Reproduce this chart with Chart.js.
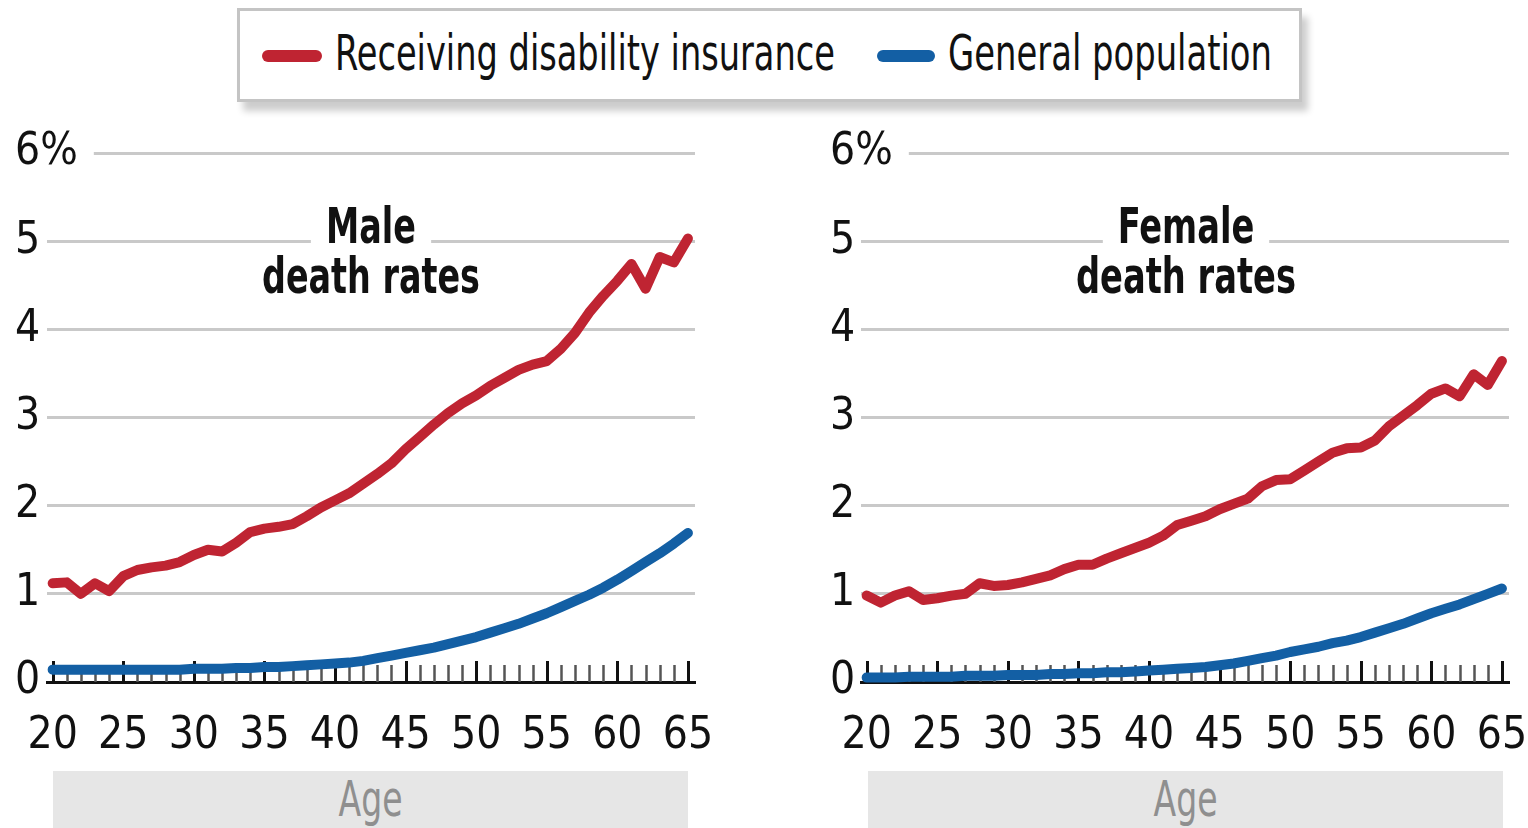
<!DOCTYPE html>
<html><head><meta charset="utf-8">
<script src="https://cdn.jsdelivr.net/npm/chart.js@4.4.1/dist/chart.umd.min.js"></script>
<style>
body{margin:0;width:1528px;height:828px;background:#fff;position:relative;overflow:hidden;font-family:"Liberation Sans Narrow","DejaVu Sans Condensed",sans-serif;color:#111}
#legend{position:absolute;left:237px;top:8px;width:1059px;height:88px;border:3px solid #c4c4c4;background:#fff;box-shadow:6px 9px 7px rgba(0,0,0,0.2)}
.sw{position:absolute;height:12px;border-radius:6px;top:50px}
.lt{position:absolute;top:28px;font-size:50px;line-height:50px;white-space:nowrap;transform-origin:left top}
canvas{position:absolute;top:110px}
.title{position:absolute;top:201px;width:400px;font-weight:bold;font-size:50px;line-height:50px;text-align:center;transform-origin:center top}
.title .w{background:#fff;padding:0 20px}
.agebox{position:absolute;top:771px;height:57px;background:#e6e6e6;color:#8f8f8f;font-size:50px;text-align:center;line-height:57px}
.agebox span{display:inline-block;transform-origin:center}
</style></head>
<body>
<div id="legend"></div>
<div class="sw" style="left:262px;width:60px;background:#bf2432"></div>
<div class="lt" data-w="500" style="left:335px">Receiving disability insurance</div>
<div class="sw" style="left:877px;width:58px;background:#135fa4"></div>
<div class="lt" data-w="324" style="left:948px">General population</div>

<canvas id="male" width="780" height="660" style="left:0"></canvas>
<canvas id="female" width="780" height="660" style="left:800px"></canvas>

<div class="title" data-w="218" style="left:171px"><span class="w">Male</span><br><span class="d">death rates</span></div>
<div class="title" data-w="220" style="left:986px"><span class="w">Female</span><br><span class="d">death rates</span></div>

<div class="agebox" style="left:53px;width:635px"><span data-w="64">Age</span></div>
<div class="agebox" style="left:868px;width:635px"><span data-w="64">Age</span></div>

<script>
const ages = [20,21,22,23,24,25,26,27,28,29,30,31,32,33,34,35,36,37,38,39,40,41,42,43,44,45,46,47,48,49,50,51,52,53,54,55,56,57,58,59,60,61,62,63,64,65];
const xTickLabels = [20,25,30,35,40,45,50,55,60,65];
const yTickValues = [0,1,2,3,4,5,6];

const maleDI = [1.12,1.13,1.00,1.12,1.03,1.20,1.27,1.30,1.32,1.36,
  1.44,1.50,1.48,1.58,1.70,1.74,1.76,1.79,1.88,1.98,
  2.06,2.14,2.25,2.36,2.48,2.64,2.78,2.92,3.05,3.16,
  3.25,3.36,3.45,3.54,3.60,3.64,3.78,3.96,4.19,4.38,
  4.55,4.74,4.46,4.82,4.76,5.03];
const maleGen = [0.14,0.14,0.14,0.14,0.14,0.14,0.14,0.14,0.14,0.14,
  0.15,0.15,0.15,0.16,0.16,0.17,0.17,0.18,0.19,0.20,
  0.21,0.22,0.24,0.27,0.30,0.33,0.36,0.39,0.43,0.47,
  0.51,0.56,0.61,0.66,0.72,0.78,0.85,0.92,0.99,1.07,
  1.16,1.26,1.36,1.46,1.57,1.69];
const femaleDI = [0.98,0.90,0.98,1.03,0.93,0.95,0.98,1.00,1.12,1.09,
  1.10,1.13,1.17,1.21,1.28,1.33,1.33,1.40,1.46,1.52,
  1.58,1.66,1.78,1.83,1.88,1.96,2.02,2.08,2.22,2.29,
  2.30,2.40,2.50,2.60,2.65,2.66,2.74,2.90,3.02,3.14,
  3.27,3.33,3.24,3.49,3.37,3.64];
const femaleGen = [0.05,0.05,0.05,0.06,0.06,0.06,0.06,0.07,0.07,0.07,
  0.08,0.08,0.08,0.09,0.09,0.10,0.10,0.11,0.11,0.12,
  0.13,0.14,0.15,0.16,0.17,0.19,0.21,0.24,0.27,0.30,
  0.34,0.37,0.40,0.44,0.47,0.51,0.56,0.61,0.66,0.72,
  0.78,0.83,0.88,0.94,1.00,1.06];

const RED = '#bf2432', BLUE = '#135fa4';
const FONT = '"Liberation Sans Narrow","DejaVu Sans Condensed",sans-serif';

// fit HTML text widths to the reference
document.querySelectorAll('.lt, .agebox span').forEach(el => {
  const w = el.getBoundingClientRect().width;
  el.style.transform = 'scaleX(' + (parseFloat(el.dataset.w) / w) + ')';
});
document.querySelectorAll('.title').forEach(el => {
  const w = el.querySelector('.d').getBoundingClientRect().width;
  el.style.transform = 'scaleX(' + (parseFloat(el.dataset.w) / w) + ')';
});

const yearTicks = {
  id: 'yearTicks',
  beforeDatasetsDraw(chart) {
    const {ctx, chartArea} = chart;
    const x = chart.scales.x;
    ctx.save();
    ages.forEach(a => {
      const px = Math.round(x.getPixelForValue(a)) + 0.5;
      const major = a % 5 === 0;
      ctx.strokeStyle = major ? '#111' : '#555';
      ctx.lineWidth = major ? 3 : 2.5;
      ctx.beginPath();
      ctx.moveTo(px, chartArea.bottom);
      ctx.lineTo(px, chartArea.bottom - (major ? 21 : 17));
      ctx.stroke();
    });
    ctx.restore();
  }
};

function makeChart(id, di, gen, pad) {
  return new Chart(document.getElementById(id), {
    type: 'line',
    data: {
      datasets: [
        {label: 'Receiving disability insurance', data: ages.map((a, i) => ({x: a, y: di[i]})),
         borderColor: RED, backgroundColor: RED, borderWidth: 10, pointRadius: 0,
         borderCapStyle: 'round', borderJoinStyle: 'round', clip: false, tension: 0},
        {label: 'General population', data: ages.map((a, i) => ({x: a, y: gen[i]})),
         borderColor: BLUE, backgroundColor: BLUE, borderWidth: 10, pointRadius: 0,
         borderCapStyle: 'round', borderJoinStyle: 'round', clip: false, tension: 0}
      ]
    },
    options: {
      responsive: false, animation: false, devicePixelRatio: 1,
      layout: {padding: {left: pad.left, right: pad.right, top: 43, bottom: 0}},
      plugins: {legend: {display: false}, tooltip: {enabled: false}, title: {display: false}},
      scales: {
        x: {
          type: 'linear', min: 19.6, max: 65.5,
          afterBuildTicks: s => { s.ticks = xTickLabels.map(v => ({value: v})); },
          afterFit: s => { s.height = 88; },
          grid: {display: false, drawTicks: true, tickLength: 28},
          border: {display: true, color: '#111', width: 3},
          ticks: {font: {family: FONT, size: 44}, color: '#111', padding: 0, autoSkip: false, maxRotation: 0}
        },
        y: {
          min: 0, max: 6, position: 'left',
          afterBuildTicks: s => { s.ticks = yTickValues.map(v => ({value: v})); },
          afterFit: s => { s.width = pad.yw; },
          border: {display: false},
          grid: {color: '#c9c9c9', lineWidth: 3, drawTicks: false},
          ticks: {
            mirror: true, padding: -pad.yw,
            font: {family: FONT, size: 44}, color: '#111',
            callback: v => v === 6 ? '6%' : String(v),
            showLabelBackdrop: true,
            backdropColor: c => (c.tick && c.tick.value === 6) ? '#ffffff' : 'rgba(255,255,255,0)',
            backdropPadding: {left: 0, right: 16, top: 0, bottom: 0}
          }
        }
      }
    },
    plugins: [yearTicks]
  });
}

makeChart('male', maleDI, maleGen, {left: 15, right: 85, yw: 32});
makeChart('female', femaleDI, femaleGen, {left: 30, right: 71, yw: 31});
</script>
</body></html>
